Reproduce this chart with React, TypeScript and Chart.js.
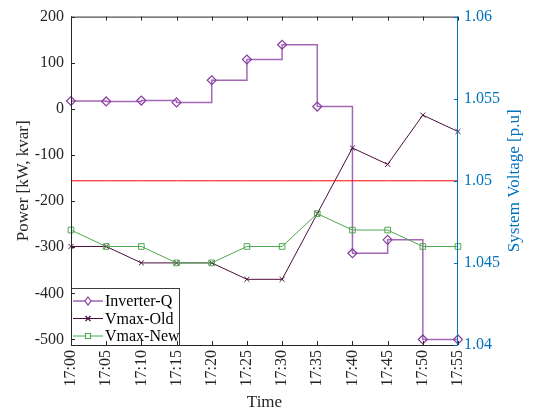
import React, { useEffect, useRef } from 'react';
import { Chart, registerables } from 'chart.js';

Chart.register(...registerables);

const timeLabels = ['17:00', '17:05', '17:10', '17:15', '17:20', '17:25', '17:30', '17:35', '17:40', '17:45', '17:50', '17:55'];
const inverterQ = [17, 16, 18, 14, 62, 107, 139, 5, -313, -284, -500, -500];
const vmaxOld = [1.046, 1.046, 1.045, 1.045, 1.045, 1.044, 1.044, 1.048, 1.052, 1.051, 1.054, 1.053];
const vmaxNew = [1.047, 1.046, 1.046, 1.045, 1.045, 1.046, 1.046, 1.048, 1.047, 1.047, 1.046, 1.046];
const voltageLimitLine = [1.05, 1.05, 1.05, 1.05, 1.05, 1.05, 1.05, 1.05, 1.05, 1.05, 1.05, 1.05];
const powerTicks = [200, 100, 0, -100, -200, -300, -400, -500];
const voltageTicks = [1.04, 1.045, 1.05, 1.055, 1.06];

const FONT = "'Liberation Serif', 'Times New Roman', serif";
const BLUE = '#0072BD';
const TXT = '#262626';
const PURPLE_LINE = '#A267B6';
const PURPLE_MARK = '#8A3CA0';
const MAROON = '#4B0E3F';
const GREEN = '#4FA84F';

function drawMarker(ctx: CanvasRenderingContext2D, style: string, x: number, y: number, color: string) {
  ctx.save();
  ctx.strokeStyle = color;
  ctx.lineWidth = 1.2;
  ctx.beginPath();
  if (style === 'rectRot') {
    ctx.moveTo(x, y - 4);
    ctx.lineTo(x + 3, y);
    ctx.lineTo(x, y + 4);
    ctx.lineTo(x - 3, y);
    ctx.closePath();
    ctx.fillStyle = '#fff';
    ctx.fill();
  } else if (style === 'crossRot') {
    ctx.moveTo(x - 2.5, y - 2.5);
    ctx.lineTo(x + 2.5, y + 2.5);
    ctx.moveTo(x + 2.5, y - 2.5);
    ctx.lineTo(x - 2.5, y + 2.5);
  } else {
    ctx.rect(x - 2.5, y - 2.5, 5, 5);
    ctx.fillStyle = '#fff';
    ctx.fill();
  }
  ctx.stroke();
  ctx.restore();
}

const framePlugin = {
  id: 'matlabFrame',
  afterDatasetsDraw(chart: any) {
    const { ctx, chartArea } = chart;
    const { left, right, top, bottom } = chartArea;
    const xs = chart.scales.x;
    const ys = chart.scales.y;
    const y1 = chart.scales.y1;
    ctx.save();

    // legend box
    const lx0 = left, lx1 = left + 108, ly0 = bottom - 57, ly1 = bottom;
    ctx.fillStyle = '#fff';
    ctx.fillRect(lx0, ly0, lx1 - lx0, ly1 - ly0);
    ctx.strokeStyle = '#3a3a3a';
    ctx.lineWidth = 1;
    ctx.strokeRect(lx0 + 0.5, ly0 + 0.5, lx1 - lx0, ly1 - ly0);
    const items = [
      { ds: 0, style: 'rectRot', line: PURPLE_LINE, mark: PURPLE_MARK },
      { ds: 1, style: 'crossRot', line: MAROON, mark: MAROON },
      { ds: 2, style: 'rect', line: GREEN, mark: GREEN },
    ];
    items.forEach((it, i) => {
      const cy = ly0 + 13 + i * 17.5;
      ctx.strokeStyle = it.line;
      ctx.lineWidth = it.ds === 0 ? 1.5 : 1;
      ctx.beginPath();
      ctx.moveTo(lx0 + 2, cy);
      ctx.lineTo(lx0 + 32, cy);
      ctx.stroke();
      drawMarker(ctx, it.style, lx0 + 17, cy, it.mark);
      ctx.fillStyle = '#000';
      ctx.font = `16px ${FONT}`;
      ctx.textAlign = 'left';
      ctx.textBaseline = 'middle';
      ctx.fillText(chart.data.datasets[it.ds].label, lx0 + 34, cy + 1);
    });

    // frame
    ctx.lineWidth = 1;
    ctx.strokeStyle = TXT;
    ctx.beginPath();
    ctx.moveTo(left + 0.5, top);
    ctx.lineTo(left + 0.5, bottom);
    ctx.moveTo(left, bottom + 0.5);
    ctx.lineTo(right, bottom + 0.5);
    ctx.moveTo(left, top + 0.5);
    ctx.lineTo(right, top + 0.5);
    ctx.stroke();
    // x ticks (inward, top and bottom)
    ctx.beginPath();
    for (let i = 0; i < timeLabels.length; i++) {
      const px = Math.round(xs.getPixelForValue(i)) + 0.5;
      ctx.moveTo(px, bottom);
      ctx.lineTo(px, bottom - 4);
      ctx.moveTo(px, top);
      ctx.lineTo(px, top + 4);
    }
    // left ticks
    powerTicks.forEach((v) => {
      const py = Math.round(ys.getPixelForValue(v)) + 0.5;
      ctx.moveTo(left, py);
      ctx.lineTo(left + 4, py);
    });
    ctx.stroke();
    // right axis
    ctx.strokeStyle = BLUE;
    ctx.beginPath();
    ctx.moveTo(right - 0.5, top);
    ctx.lineTo(right - 0.5, bottom + 1);
    voltageTicks.forEach((v) => {
      const py = Math.round(y1.getPixelForValue(v)) + 0.5;
      ctx.moveTo(right, py);
      ctx.lineTo(right - 4, py);
    });
    ctx.stroke();

    // right axis title
    ctx.save();
    ctx.translate(515, (top + bottom) / 2);
    ctx.rotate(-Math.PI / 2);
    ctx.fillStyle = BLUE;
    ctx.font = `17px ${FONT}`;
    ctx.textAlign = 'center';
    ctx.textBaseline = 'middle';
    ctx.fillText('System Voltage [p.u]', 0, 0);
    ctx.restore();

    ctx.restore();
  },
};

export default function App() {
  const ref = useRef<HTMLCanvasElement | null>(null);
  useEffect(() => {
    if (!ref.current) return;
    const chart = new Chart(ref.current, {
      type: 'line',
      data: {
        labels: timeLabels,
        datasets: [
          {
            label: 'Inverter-Q',
            data: inverterQ,
            yAxisID: 'y',
            borderColor: PURPLE_LINE,
            borderWidth: 1.5,
            stepped: true,
            pointStyle: 'rectRot',
            pointRadius: 4.5,
            pointBorderColor: PURPLE_MARK,
            pointBackgroundColor: 'rgba(255,255,255,0)',
            pointBorderWidth: 1.2,
            fill: false,
            order: 3,
          },
          {
            label: 'Vmax-Old',
            data: vmaxOld,
            yAxisID: 'y1',
            borderColor: MAROON,
            borderWidth: 1,
            pointStyle: 'crossRot',
            pointRadius: 3.5,
            pointBorderColor: MAROON,
            pointBorderWidth: 1,
            tension: 0,
            fill: false,
            order: 2,
          },
          {
            label: 'Vmax-New',
            data: vmaxNew,
            yAxisID: 'y1',
            borderColor: GREEN,
            borderWidth: 1,
            pointStyle: 'rect',
            pointRadius: 4,
            pointBorderColor: GREEN,
            pointBackgroundColor: 'rgba(255,255,255,0)',
            pointBorderWidth: 1,
            tension: 0,
            fill: false,
            order: 1,
          },
          {
            label: 'Limit',
            data: voltageLimitLine,
            yAxisID: 'y1',
            borderColor: '#FF0000',
            borderWidth: 1,
            pointRadius: 0,
            fill: false,
            order: 0,
          },
        ],
      },
      options: {
        responsive: false,
        animation: false,
        devicePixelRatio: 1,
        layout: { padding: { top: 11, left: 0, right: 0, bottom: 0 } },
        plugins: {
          legend: { display: false },
          tooltip: { enabled: false },
        },
        scales: {
          x: {
            type: 'category',
            offset: false,
            grid: { display: false, drawTicks: false, tickLength: 0 },
            border: { display: false },
            ticks: {
              font: { family: FONT, size: 16 },
              color: TXT,
              maxRotation: 90,
              minRotation: 90,
              padding: 5,
              autoSkip: false,
            },
            title: {
              display: true,
              text: 'Time',
              font: { family: FONT, size: 17 },
              color: TXT,
              padding: { top: 0, bottom: 1 },
            },
            afterFit: (s: any) => {
              s.height = 69;
            },
          },
          y: {
            position: 'left',
            min: -512,
            max: 200,
            grid: { display: false, drawTicks: false, tickLength: 0 },
            border: { display: false },
            afterBuildTicks: (s: any) => {
              s.ticks = powerTicks.map((v) => ({ value: v }));
            },
            ticks: {
              font: { family: FONT, size: 16 },
              color: TXT,
              padding: 7,
              callback: (v: any) => String(v),
            },
            title: {
              display: true,
              text: 'Power [kW, kvar]',
              font: { family: FONT, size: 17 },
              color: TXT,
              padding: { top: 13, bottom: 0 },
            },
            afterFit: (s: any) => {
              s.width = 71;
            },
          },
          y1: {
            position: 'right',
            min: 1.04,
            max: 1.06,
            grid: { display: false, drawTicks: false, tickLength: 0 },
            border: { display: false },
            afterBuildTicks: (s: any) => {
              s.ticks = voltageTicks.map((v) => ({ value: v }));
            },
            ticks: {
              font: { family: FONT, size: 16 },
              color: BLUE,
              padding: 6,
              callback: (v: any) => String(v),
            },
            afterFit: (s: any) => {
              s.width = 76;
            },
          },
        },
      },
      plugins: [framePlugin],
    } as any);
    return () => chart.destroy();
  }, []);
  return (
    <canvas
      ref={ref}
      width={534}
      height={414}
      style={{ position: 'absolute', left: 0, top: 0, display: 'block', background: '#fff' }}
    />
  );
}
